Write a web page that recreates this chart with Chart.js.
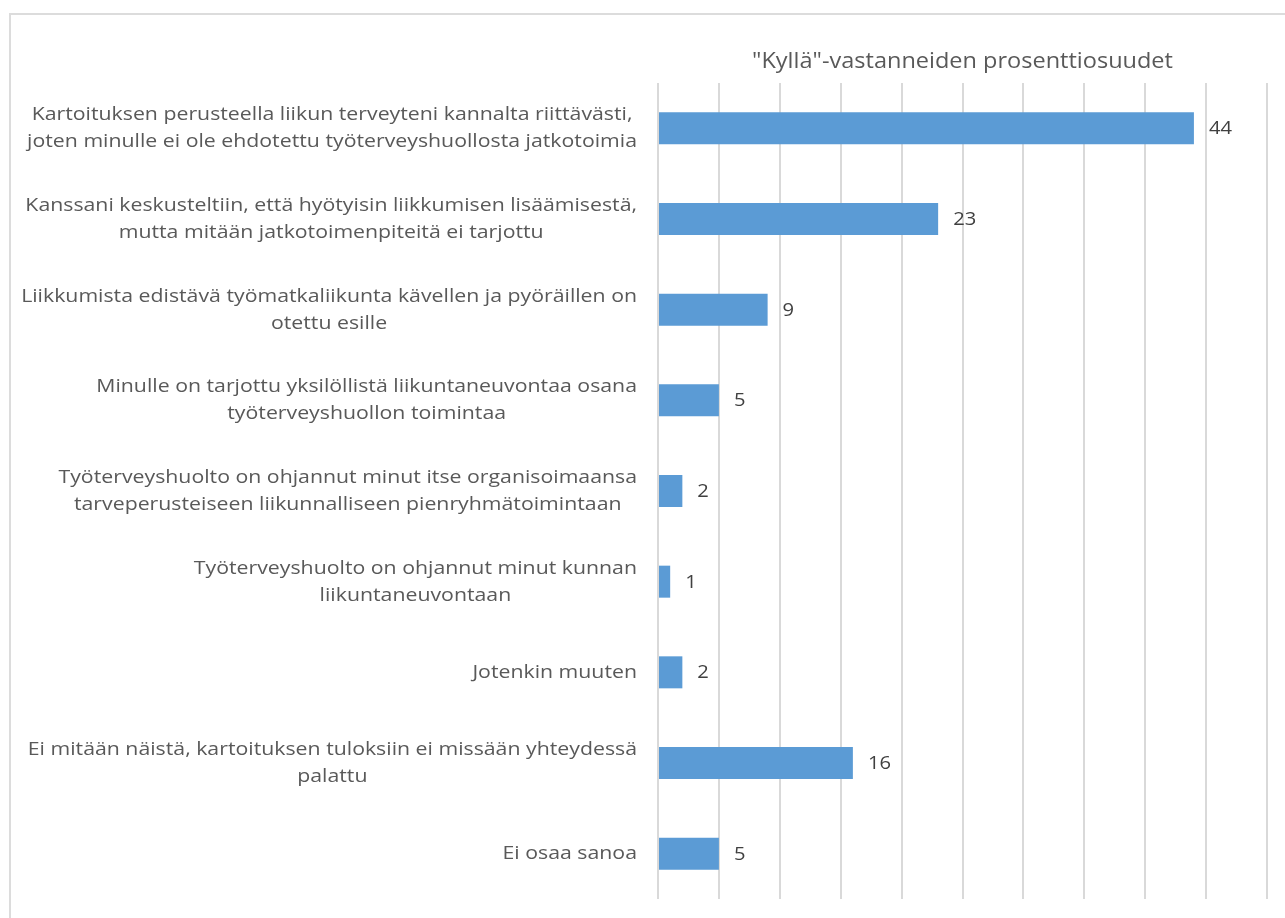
<!DOCTYPE html>
<html lang="fi">
<head>
<meta charset="utf-8">
<title>Kyllä-vastanneiden prosenttiosuudet</title>
<script src="https://cdn.jsdelivr.net/npm/chart.js@4.4.1/dist/chart.umd.min.js"></script>
<style>
  html, body { margin: 0; padding: 0; background: #fff; overflow: hidden; }
  #frame {
    position: absolute; left: 9px; top: 13px;
    width: 1300px; height: 950px;
    border: 2px solid #dcdcdc; box-sizing: border-box;
  }
  #wrap { position: absolute; left: 0; top: 0; width: 1285px; height: 918px; }
</style>
</head>
<body>
<div id="frame"></div>
<div id="wrap"><canvas id="chartCanvas" width="1285" height="918"></canvas></div>
<script>
// kysymyksen vastausvaihtoehdot (rivitetty kuten kaaviossa)
const categories = [
    ["Kartoituksen perusteella liikun terveyteni kannalta riittävästi,", "joten minulle ei ole ehdotettu työterveyshuollosta jatkotoimia"],
    ["Kanssani keskusteltiin, että hyötyisin liikkumisen lisäämisestä,", "mutta mitään jatkotoimenpiteitä ei tarjottu"],
    ["Liikkumista edistävä työmatkaliikunta kävellen ja pyöräillen on", "otettu esille"],
    ["Minulle on tarjottu yksilöllistä liikuntaneuvontaa osana", "työterveyshuollon toimintaa"],
    ["Työterveyshuolto on ohjannut minut itse organisoimaansa", "tarveperusteiseen liikunnalliseen pienryhmätoimintaan"],
    ["Työterveyshuolto on ohjannut minut kunnan", "liikuntaneuvontaan"],
    ["Jotenkin muuten"],
    ["Ei mitään näistä, kartoituksen tuloksiin ei missään yhteydessä", "palattu"],
    ["Ei osaa sanoa"]
];

// "Kyllä"-vastausten osuudet, %
const values = [44, 23, 9, 5, 2, 1, 2, 16, 5];

const chartTitle = '"Kyllä"-vastanneiden prosenttiosuudet';

// x-akselin asteikko (ei näkyviä lukuja, vain apuviivat)
const xMin = 0;
const xMax = 50;
const xStep = 5;

const fontName = "'Open Sans'";
const stretch = 1.12;   // tekstit hieman leveämpinä
Chart.defaults.font.family = "'Open Sans', sans-serif";

function wideText(ctx, text, x, y) {
    ctx.save();
    ctx.translate(x, y);
    ctx.scale(stretch, 1);
    ctx.fillText(text, 0, 0);
    ctx.restore();
}

// otsikko, rivien selitteet ja arvot piirretään itse
const textPlugin = {
    id: 'textPlugin',
    afterDraw(chart) {
        const ctx = chart.ctx;
        const xScale = chart.scales.x;
        const yScale = chart.scales.y;
        const area = chart.chartArea;

        ctx.save();
        ctx.textBaseline = 'middle';

        ctx.font = "21px " + fontName;
        ctx.fillStyle = '#595959';
        ctx.textAlign = 'center';
        wideText(ctx, chartTitle, (area.left + area.right) / 2, 62);

        // monirivinen selite: rivit keskitetty, lohko oikeaan reunaan
        ctx.font = "19px " + fontName;
        categories.forEach((lines, i) => {
            const y = yScale.getPixelForValue(i);
            const blockWidth = stretch * Math.max(...lines.map(l => ctx.measureText(l).width));
            const cx = area.left - 21 - blockWidth / 2;
            lines.forEach((line, j) => {
                wideText(ctx, line, cx, y + (j - (lines.length - 1) / 2) * 27);
            });
        });

        ctx.font = "18px " + fontName;
        ctx.fillStyle = '#404040';
        ctx.textAlign = 'left';
        values.forEach((v, i) => {
            wideText(ctx, String(v), xScale.getPixelForValue(v) + 15, yScale.getPixelForValue(i) + 1);
        });
        ctx.restore();
    }
};

const ctx = document.getElementById("chartCanvas").getContext("2d");
const chart = new Chart(ctx, {
    type: 'bar',
    data: {
        labels: categories.map(lines => lines.join(' ')),
        datasets: [{
            label: 'Kyllä',
            data: values,
            backgroundColor: '#5b9bd5',
            borderWidth: 0,
            categoryPercentage: 1,
            barPercentage: 0.353
        }]
    },
    options: {
        indexAxis: 'y',
        responsive: false,
        animation: false,
        layout: {
            padding: { left: 0, right: 18, top: 83, bottom: 19 }
        },
        plugins: {
            legend: { display: false },
            tooltip: { enabled: false }
        },
        scales: {
            x: {
                min: xMin,
                max: xMax,
                ticks: { display: false, stepSize: xStep },
                grid: { color: '#d9d9d9', lineWidth: 2, drawTicks: false },
                border: { display: false },
                afterFit(scale) { scale.height = 0; }
            },
            y: {
                ticks: { display: false },
                grid: { display: false },
                border: { display: false },
                afterFit(scale) { scale.width = 658; }
            }
        }
    },
    plugins: [textPlugin]
});
</script>
</body>
</html>
